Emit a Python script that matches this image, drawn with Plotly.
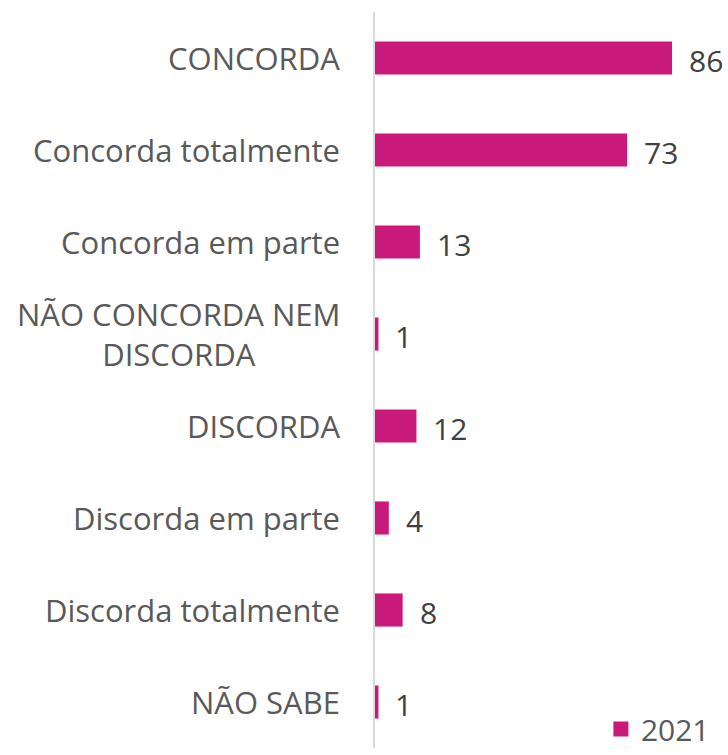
import plotly.graph_objects as go

categories = ["CONCORDA", "Concorda totalmente", "Concorda em parte",
              "NÃO CONCORDA NEM<br>DISCORDA", "DISCORDA", "Discorda em parte",
              "Discorda totalmente", "NÃO SABE"]
values_2021 = [86, 73, 13, 1, 12, 4, 8, 1]
series_name = "2021"

BAR = "#C9197A"
FONT = "Open Sans"

fig = go.Figure()
fig.add_trace(go.Bar(
    y=categories, x=values_2021, orientation="h", name=series_name,
    marker=dict(color=BAR, line=dict(width=0)), width=0.36,
    showlegend=False, hoverinfo="skip",
))
# legend entry with a larger square swatch
fig.add_trace(go.Scatter(
    x=[None], y=[None], mode="markers", name=series_name,
    marker=dict(symbol="square", size=15, color=BAR), showlegend=True,
))

for c, v in zip(categories, values_2021):
    fig.add_annotation(x=0, y=c, xref="x", yref="y", text=c, showarrow=False,
                       xanchor="right", yanchor="middle", align="center", xshift=-33,
                       font=dict(family=FONT, size=31, color="#595959"))
    fig.add_annotation(x=v, y=c, xref="x", yref="y", text=str(v), showarrow=False,
                       xanchor="left", yanchor="middle", xshift=15, yshift=-2,
                       font=dict(family=FONT, size=30, color="#404040"))

fig.update_layout(
    width=728, height=755,
    margin=dict(l=375, r=0, t=12, b=7, autoexpand=False),
    plot_bgcolor="white", paper_bgcolor="white",
    xaxis=dict(range=[0, 102.2], showgrid=False, zeroline=False, showticklabels=False,
               showline=False),
    yaxis=dict(autorange="reversed", showticklabels=False, showgrid=False, zeroline=False,
               showline=True, linecolor="#D9D9D9", linewidth=2, ticks=""),
    legend=dict(xref="container", yref="container", x=0.982, y=0.0,
                xanchor="right", yanchor="bottom", bgcolor="rgba(0,0,0,0)",
                font=dict(family=FONT, size=30, color="#595959"), itemwidth=30,
                tracegroupgap=0),
    font=dict(family=FONT),
)

fig.write_html("out.html", config={"displayModeBar": False},
               post_script="document.body.style.margin='0';document.body.style.overflow='hidden';")
